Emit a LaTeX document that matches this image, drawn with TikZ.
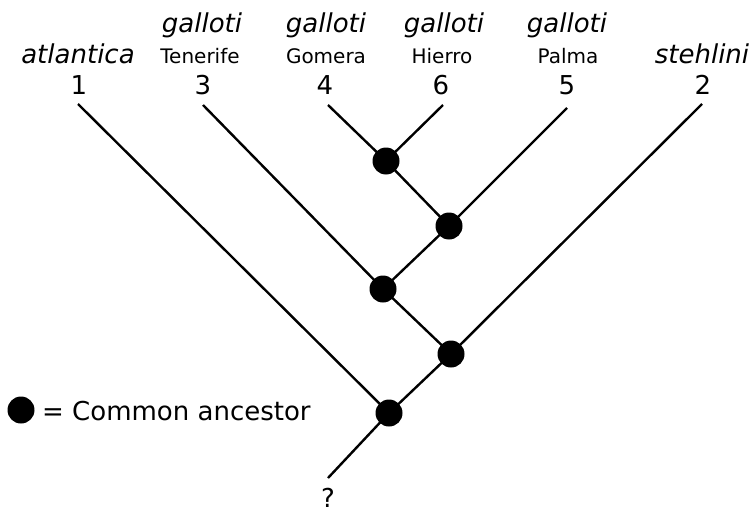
\documentclass[tikz,border=0pt]{standalone}
\usepackage{fontspec}
\setmainfont{DejaVu Sans}
\begin{document}
\begin{tikzpicture}[x=1pt,y=1pt,
  anc/.style={circle,fill=black,inner sep=0pt,minimum size=27pt},
  big/.style={font=\fontsize{26}{31}\selectfont,inner sep=0pt,anchor=base},
  bigit/.style={font=\fontsize{26}{31}\selectfont\itshape,inner sep=0pt,anchor=base},
  small/.style={font=\fontsize{20}{24}\selectfont,inner sep=0pt,anchor=base},
  br/.style={line width=2.4pt}]
\useasboundingbox (0,0) rectangle (753,-514);
% labels
\node[bigit] (s1) at (78,-63) {atlantica};
\node[big] (n1) at (79,-94) {1};
\node[bigit] (g3) at (202,-32) {galloti};
\node[small] (i3) at (200,-63) {Tenerife};
\node[big] (n3) at (203,-94) {3};
\node[bigit] (g4) at (326,-32) {galloti};
\node[small] (i4) at (326,-63) {Gomera};
\node[big] (n4) at (325,-94) {4};
\node[bigit] (g6) at (444,-32) {galloti};
\node[small] (i6) at (442,-63) {Hierro};
\node[big] (n6) at (441,-94) {6};
\node[bigit] (g5) at (567,-32) {galloti};
\node[small] (i5) at (568,-63) {Palma};
\node[big] (n5) at (567,-94) {5};
\node[bigit] (s2) at (702,-63) {stehlini};
\node[big] (n2) at (703,-94) {2};
\node[big] (q) at (328,-507) {?};
% branch tips
\coordinate (t1) at (78,-104);
\coordinate (t3) at (203,-105);
\coordinate (t4) at (328,-105);
\coordinate (t6) at (443,-105);
\coordinate (t5) at (567,-108);
\coordinate (t2) at (702,-104);
\coordinate (root) at (328,-478);
% ancestors
\coordinate (A) at (386,-161);
\coordinate (B) at (449,-226);
\coordinate (C) at (383,-289);
\coordinate (D) at (451,-354);
\coordinate (E) at (389,-413);
\draw[br] (t4) -- (A) -- (B) -- (C) -- (D) -- (E) -- (root);
\draw[br] (t6) -- (A);
\draw[br] (t5) -- (B);
\draw[br] (t3) -- (C);
\draw[br] (t2) -- (D);
\draw[br] (t1) -- (E);
\foreach \p in {A,B,C,D,E} \node[anc] (n\p) at (\p) {};
% legend
\node[anc] (leg) at (21,-410) {};
\node[big,anchor=base west] (legtext) at (42,-420) {= Common ancestor};
\end{tikzpicture}
\end{document}
